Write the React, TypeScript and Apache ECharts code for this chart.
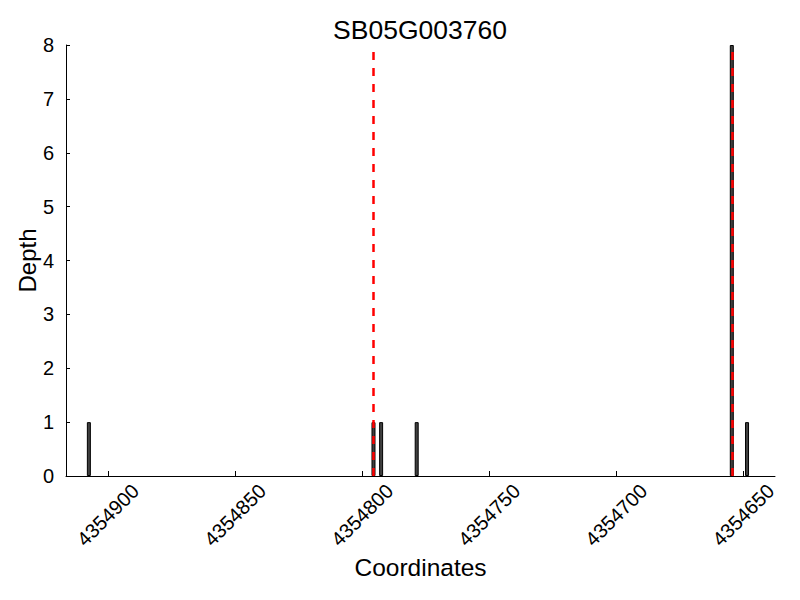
import React, { useEffect, useRef } from "react";
import * as echarts from "echarts";

const title = "SB05G003760";
const positions = [4354907.5, 4354795.5, 4354792.5, 4354778.5, 4354654.5, 4354648.5];
const depths = [1, 1, 1, 1, 8, 1];
const redLines = [4354795.5, 4354654.5];
const xTicks = [4354650, 4354700, 4354750, 4354800, 4354850, 4354900];
const xMin = 4354637.5;
const xMax = 4354916.5;

const FONT = "Liberation Sans, Arial, Helvetica, sans-serif";

export default function App() {
  const ref = useRef<HTMLDivElement>(null);
  useEffect(() => {
    const chart = echarts.init(ref.current!, null, { renderer: "svg" });
    chart.setOption({
      animation: false,
      title: {
        text: title,
        left: 415,
        textAlign: "center",
        top: 11,
        textStyle: { fontFamily: FONT, fontSize: 26.5, fontWeight: "normal", color: "#000" },
      },
      grid: { left: 66, right: 25, top: 45, bottom: 124, containLabel: false },
      xAxis: {
        type: "value",
        inverse: true,
        min: xMin,
        max: xMax,
        name: "Coordinates",
        nameLocation: "middle",
        nameGap: 79,
        nameMoveOverlap: false,
        nameTextStyle: { fontFamily: FONT, fontSize: 24.5, color: "#000" },
        axisLine: { show: true, lineStyle: { color: "#000", width: 1 } },
        axisTick: { show: true, inside: true, length: 5, lineStyle: { color: "#000" }, customValues: xTicks },
        axisLabel: {
          customValues: xTicks,
          rotate: 45,
          align: "center",
          verticalAlign: "middle",
          margin: 39,
          fontFamily: FONT,
          fontSize: 20,
          color: "#000",
          formatter: (v: number) => String(Math.round(v)),
        },
        splitLine: { show: false },
      },
      yAxis: {
        type: "value",
        min: 0,
        max: 8,
        interval: 1,
        name: "Depth",
        nameLocation: "middle",
        nameGap: 27,
        nameMoveOverlap: false,
        nameTextStyle: { fontFamily: FONT, fontSize: 24, color: "#000" },
        axisLine: { show: true, lineStyle: { color: "#000", width: 1 } },
        axisTick: { show: true, inside: true, length: 4, lineStyle: { color: "#000" } },
        axisLabel: { fontFamily: FONT, fontSize: 20, color: "#000", margin: 12 },
        splitLine: { show: false },
      },
      series: [
        {
          type: "bar",
          data: positions.map((p, i) => [p, depths[i]]),
          barWidth: 4,
          itemStyle: { color: "#404040", borderColor: "#000", borderWidth: 1 },
          markLine: {
            silent: true,
            symbol: ["none", "none"],
            label: { show: false },
            lineStyle: { color: "#ff0000", width: 2.5, type: [8, 8] },
            data: redLines.map((v) => ({ xAxis: v })),
          },
        },
      ],
    });
    return () => chart.dispose();
  }, []);
  return (
    <div
      ref={ref}
      style={{ position: "absolute", left: 0, top: 0, width: 800, height: 600 }}
    />
  );
}
